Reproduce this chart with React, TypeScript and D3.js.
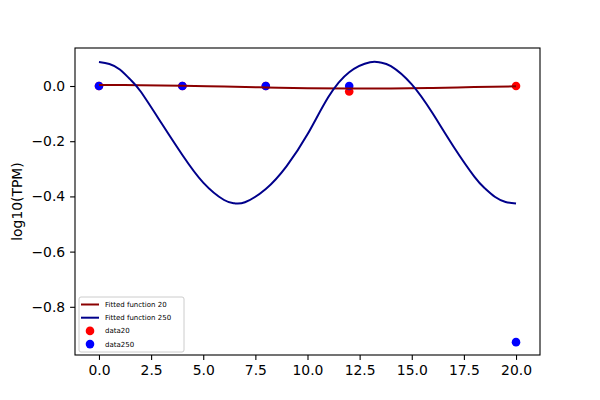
import { useRef, useEffect } from "react";
import * as d3 from "d3";

// fitted curves
const fitX250 = [
  0, 0.5, 1, 1.5, 2, 3, 4, 5, 6, 6.5, 7, 8, 9, 10, 11, 12, 13, 13.5, 14, 15, 16, 17, 18,
  18.5, 19, 19.5, 20,
];
const fitY250 = [
  0.087, 0.08, 0.06, 0.024, -0.02, -0.135, -0.25, -0.35, -0.413, -0.425, -0.421, -0.373,
  -0.29, -0.175, -0.04, 0.05, 0.086, 0.085, 0.072, 0.006, -0.099, -0.219, -0.328, -0.37,
  -0.402, -0.42, -0.426,
];
const fitX20 = [0, 2, 4, 6, 8, 10, 12, 14, 16, 18, 20];
const fitY20 = [0.004, 0.003, 0.001, -0.002, -0.005, -0.008, -0.009, -0.009, -0.007, -0.004, -0.001];

// measured points
const timeX = [0, 4, 8, 12, 20];
const data20 = [0, 0, 0, -0.02, 0];
const data250 = [0, 0, 0, 0, -0.928];

const xTicks = [0, 2.5, 5, 7.5, 10, 12.5, 15, 17.5, 20];
const yTicks = [-0.8, -0.6, -0.4, -0.2, 0];

const LINE20 = "#8b0000";
const LINE250 = "#00008b";
const DOT20 = "#ff0000";
const DOT250 = "#0000ff";

export default function App() {
  const svgRef = useRef<SVGSVGElement>(null);

  useEffect(() => {
    if (!svgRef.current) return;
    const width = 600;
    const height = 400;
    const svg = d3.select(svgRef.current);
    svg.selectAll("*").remove();
    svg.attr("viewBox", `0 0 ${width} ${height}`);

    const margin = { top: 48, right: 60, bottom: 45, left: 75 };
    const w = width - margin.left - margin.right;
    const h = height - margin.top - margin.bottom;
    const font = "DejaVu Sans, sans-serif";

    const x = d3.scaleLinear().domain([-1.15, 21.15]).range([0, w]);
    const y = d3.scaleLinear().domain([-0.9746, 0.1377]).range([h, 0]);

    svg.append("rect").attr("width", width).attr("height", height).attr("fill", "#fff");

    const g = svg.append("g").attr("transform", `translate(${margin.left},${margin.top})`);

    // Scatter (drawn under the lines, as in matplotlib)
    const dots = (vals: number[], color: string) =>
      g.append("g")
        .selectAll("circle")
        .data(vals)
        .join("circle")
        .attr("cx", (_, i) => x(timeX[i]))
        .attr("cy", (d) => y(d))
        .attr("r", 4.3)
        .attr("fill", color);
    dots(data20, DOT20);
    dots(data250, DOT250);

    const line = d3.line<number>().curve(d3.curveNatural);

    g.append("path")
      .attr("d", line.x((_, i) => x(fitX20[i])).y((d) => y(d))(fitY20))
      .attr("fill", "none")
      .attr("stroke", LINE20)
      .attr("stroke-width", 2);

    g.append("path")
      .attr("d", line.x((_, i) => x(fitX250[i])).y((d) => y(d))(fitY250))
      .attr("fill", "none")
      .attr("stroke", LINE250)
      .attr("stroke-width", 2);

    // X axis
    const xa = g.append("g")
      .attr("transform", `translate(0,${h})`)
      .call(d3.axisBottom(x).tickValues(xTicks).tickFormat(d3.format(".1f")).tickSizeInner(4.9).tickSizeOuter(0).tickPadding(4.9));
    xa.selectAll("text").attr("fill", "#000").style("font-size", "13.9px").style("font-family", font);

    // Y axis
    const ya = g.append("g")
      .call(d3.axisLeft(y).tickValues(yTicks).tickFormat(d3.format(".1f")).tickSizeInner(4.9).tickSizeOuter(0).tickPadding(4.9));
    ya.selectAll("text").attr("fill", "#000").style("font-size", "13.9px").style("font-family", font);

    svg.selectAll(".domain").remove();
    svg.selectAll(".tick line").attr("stroke", "#000").attr("stroke-width", 1.1);

    // frame
    g.append("rect")
      .attr("x", 0).attr("y", 0).attr("width", w).attr("height", h)
      .attr("fill", "none").attr("stroke", "#000").attr("stroke-width", 1.1);

    svg.append("text")
      .attr("transform", `translate(22,${margin.top + h / 2}) rotate(-90)`)
      .attr("text-anchor", "middle")
      .style("font-size", "13.9px")
      .style("font-family", font)
      .text("log10(TPM)");

    // Legend
    const lg = g.append("g").attr("transform", "translate(4,249)");
    lg.append("rect")
      .attr("width", 105).attr("height", 55).attr("rx", 2)
      .attr("fill", "#fff").attr("fill-opacity", 0.8)
      .attr("stroke", "#ccc").attr("stroke-width", 1);
    const items = [
      { label: "Fitted function 20", color: LINE20, kind: "line" },
      { label: "Fitted function 250", color: LINE250, kind: "line" },
      { label: "data20", color: DOT20, kind: "dot" },
      { label: "data250", color: DOT250, kind: "dot" },
    ];
    items.forEach((it, i) => {
      const cy = 7.5 + i * 13.2;
      if (it.kind === "line") {
        lg.append("line").attr("x1", 2).attr("x2", 20).attr("y1", cy).attr("y2", cy)
          .attr("stroke", it.color).attr("stroke-width", 2);
      } else {
        lg.append("circle").attr("cx", 11).attr("cy", cy).attr("r", 4.3).attr("fill", it.color);
      }
      lg.append("text")
        .attr("x", 26).attr("y", cy).attr("dy", "0.35em")
        .style("font-size", "7px").style("font-family", font)
        .text(it.label);
    });
  }, []);

  return (
    <svg
      ref={svgRef}
      width={600}
      height={400}
      style={{ position: "absolute", left: 0, top: 0 }}
    />
  );
}
